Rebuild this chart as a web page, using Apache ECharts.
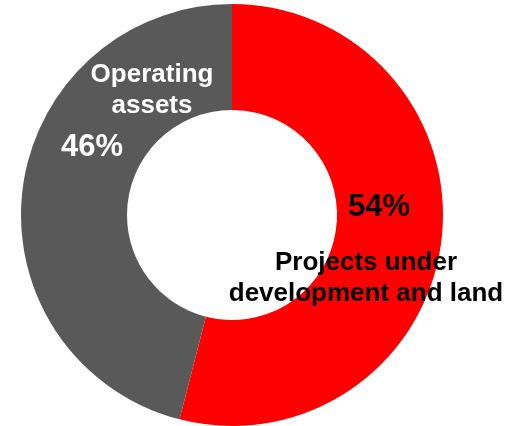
<!DOCTYPE html>
<html>
<head>
<meta charset="utf-8">
<script src="https://cdn.jsdelivr.net/npm/echarts@6/dist/echarts.min.js"></script>
<style>
  html, body { margin: 0; padding: 0; background: #ffffff; }
  #chart { width: 522px; height: 426px; }
</style>
</head>
<body>
<div id="chart"></div>
<script>
// Portfolio split by asset type (share of total, %)
const categories = ['Projects under development and land', 'Operating assets'];
const nameLabels = ['Projects under\ndevelopment and land', 'Operating\nassets'];
const shares = [54, 46];
const colors = ['#ff0000', '#595959'];
const textColors = ['#000000', '#ffffff'];

// Label placement relative to the ring centre
const pctOffsets = [[147, -8], [-140, -68]];
const nameOffsets = [[134, 63], [-80, -125]];

const FONT = '"Liberation Sans", Arial, sans-serif';
const CENTER = [232, 215];
const RADIUS = [105, 211];

const ringData = categories.map((c, i) => ({
  name: c,
  value: shares[i],
  itemStyle: { color: colors[i] },
  label: {
    offset: pctOffsets[i],
    color: textColors[i]
  }
}));

const nameData = categories.map((c, i) => ({
  name: c,
  value: shares[i],
  label: {
    formatter: nameLabels[i],
    offset: nameOffsets[i],
    color: textColors[i]
  }
}));

const chart = echarts.init(document.getElementById('chart'), null, { renderer: 'canvas' });
chart.setOption({
  animation: false,
  backgroundColor: '#ffffff',
  series: [
    {
      type: 'pie',
      center: CENTER,
      radius: RADIUS,
      startAngle: 90,
      clockwise: true,
      silent: true,
      itemStyle: { borderWidth: 0 },
      label: {
        show: true,
        position: 'center',
        formatter: p => Math.round(p.percent) + '%',
        fontFamily: FONT,
        fontWeight: 'bold',
        fontSize: 31,
        align: 'center',
        verticalAlign: 'middle'
      },
      labelLine: { show: false },
      data: ringData
    },
    {
      type: 'pie',
      center: CENTER,
      radius: RADIUS,
      startAngle: 90,
      clockwise: true,
      silent: true,
      itemStyle: { color: 'rgba(0,0,0,0)', borderWidth: 0 },
      label: {
        show: true,
        position: 'center',
        fontFamily: FONT,
        fontWeight: 'bold',
        fontSize: 26,
        lineHeight: 31,
        align: 'center',
        verticalAlign: 'middle'
      },
      labelLine: { show: false },
      data: nameData
    }
  ]
});
</script>
</body>
</html>
